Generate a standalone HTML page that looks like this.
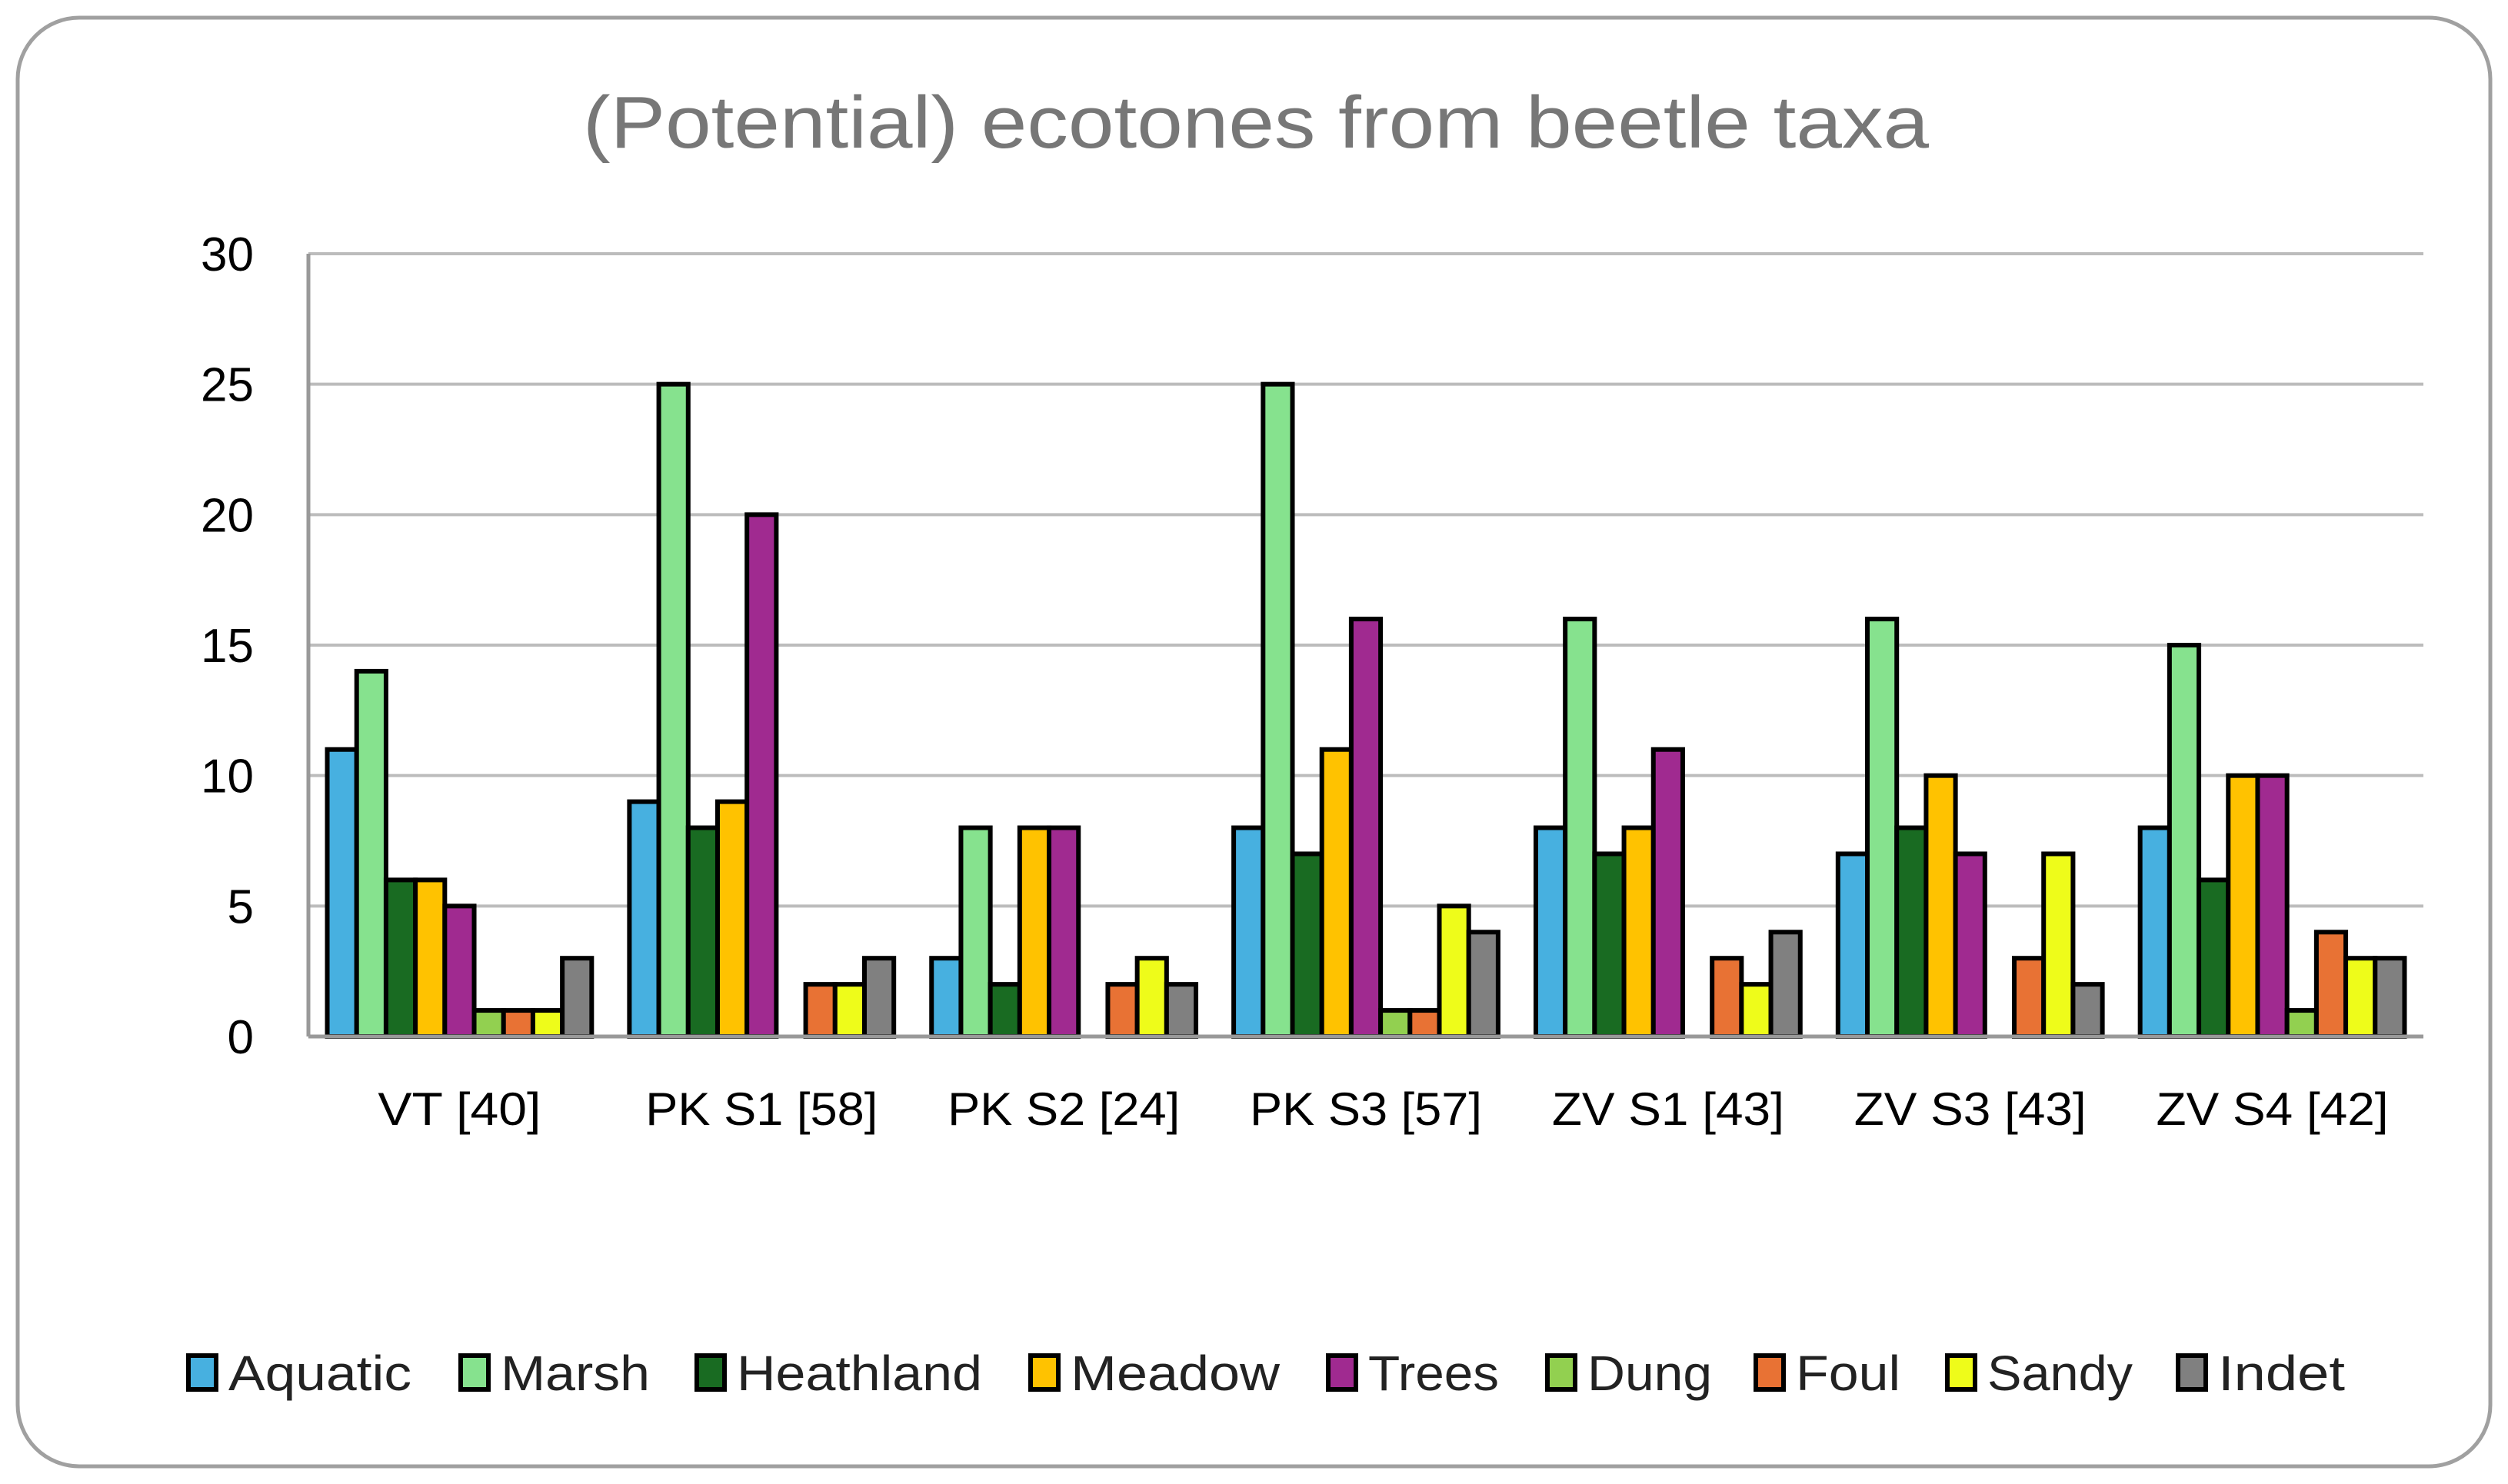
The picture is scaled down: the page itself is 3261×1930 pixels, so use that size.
<!DOCTYPE html>
<html><head><meta charset="utf-8"><style>
html,body{margin:0;padding:0;background:#fff}
svg{display:block;font-family:"Liberation Sans",sans-serif}
</style></head><body>
<svg id="chart" width="3261" height="1930" viewBox="0 0 3261 1930">
<rect x="23" y="23" width="3215" height="1884" rx="80" ry="80" fill="#fff" stroke="#a0a0a0" stroke-width="5"/>
<text x="1633" y="192" text-anchor="middle" font-size="96" fill="#777" textLength="1750" lengthAdjust="spacingAndGlyphs">(Potential) ecotones from beetle taxa</text>
<g id="grid"></g><g id="bars"></g><g id="axes"></g><g id="legend"></g>
</svg>
<script>
const categories = ["VT [40]","PK S1 [58]","PK S2 [24]","PK S3 [57]","ZV S1 [43]","ZV S3 [43]","ZV S4 [42]"];
const seriesNames = ["Aquatic","Marsh","Heathland","Meadow","Trees","Dung","Foul","Sandy","Indet"];
const aquatic = [11,9,3,8,8,7,8];
const marsh = [14,25,8,25,16,16,15];
const heathland = [6,8,2,7,7,8,6];
const meadow = [6,9,8,11,8,10,10];
const trees = [5,20,8,16,11,7,10];
const dung = [1,0,0,1,0,0,1];
const foul = [1,2,2,1,3,3,4];
const sandy = [1,2,3,5,2,7,3];
const indet = [3,3,2,4,4,2,3];
const yTicks = [0,5,10,15,20,25,30];
const colors = ["#47b0e0","#86e28e","#196b22","#ffc200","#a02a90","#92d050","#e87234","#eefc1a","#808080"];
const series = [aquatic,marsh,heathland,meadow,trees,dung,foul,sandy,indet];

const NS="http://www.w3.org/2000/svg";
const X0=401,X1=3151,Y0=1348,Ytop=330,YMAX=30;
const catW=(X1-X0)/categories.length;
const barW=38.2, groupPad=(catW-barW*seriesNames.length)/2;
function yS(v){return Y0-(v/YMAX)*(Y0-Ytop);}
function xCat(i){return X0+i*catW;}
function mk(tag,attrs,parent){const e=document.createElementNS(NS,tag);for(const k in attrs)e.setAttribute(k,attrs[k]);parent.appendChild(e);return e;}
const grid=document.getElementById('grid'),bars=document.getElementById('bars'),axes=document.getElementById('axes'),legend=document.getElementById('legend');

yTicks.forEach(t=>{
  if(t>0){const l=mk('line',{x1:X0,x2:X1,y1:yS(t),y2:yS(t),stroke:'#bcbcbc','stroke-width':4},grid);
  
  }
  const tx=mk('text',{x:330,y:yS(t)+22,'text-anchor':'end','font-size':62,fill:'#000'},axes);
  tx.textContent=t;
  
  
});
series.forEach((vals,s)=>{
  vals.forEach((v,i)=>{
    if(v<=0)return;
    const x=xCat(i)+groupPad+s*barW;
    const r=mk('rect',{x:x,y:yS(v),width:barW,height:Y0-yS(v),fill:colors[s],stroke:'#000','stroke-width':6},bars);
    
    
  });
});
const xa=mk('line',{x1:X0,x2:X1,y1:Y0,y2:Y0,stroke:'#999','stroke-width':5},axes);


const ya=mk('line',{x1:X0,x2:X0,y1:Ytop,y2:Y0,stroke:'#999','stroke-width':5},axes);


categories.forEach((c,i)=>{
  const len = c.length<8 ? 212 : 302;
  const t=mk('text',{x:xCat(i)+catW/2,y:1463,'text-anchor':'middle','font-size':60,fill:'#000',textLength:len,lengthAdjust:'spacingAndGlyphs'},axes);
  t.textContent=c;
  
  
});
const legX=[245,599,906,1340,1727,2012,2283,2532,2832];
const legEnd=[535,845,1277,1664,1949,2226,2471,2773,3049];
seriesNames.forEach((n,s)=>{
  const g=mk('g',{},legend);
  
  
  mk('rect',{x:legX[s],y:1763,width:36,height:44,fill:colors[s],stroke:'#000','stroke-width':6},g);
  const t=mk('text',{x:legX[s]+52,y:1808,'font-size':64,fill:'#222',textLength:legEnd[s]-legX[s]-52,lengthAdjust:'spacingAndGlyphs'},g);
  t.textContent=n;
});
</script>
</body></html>
